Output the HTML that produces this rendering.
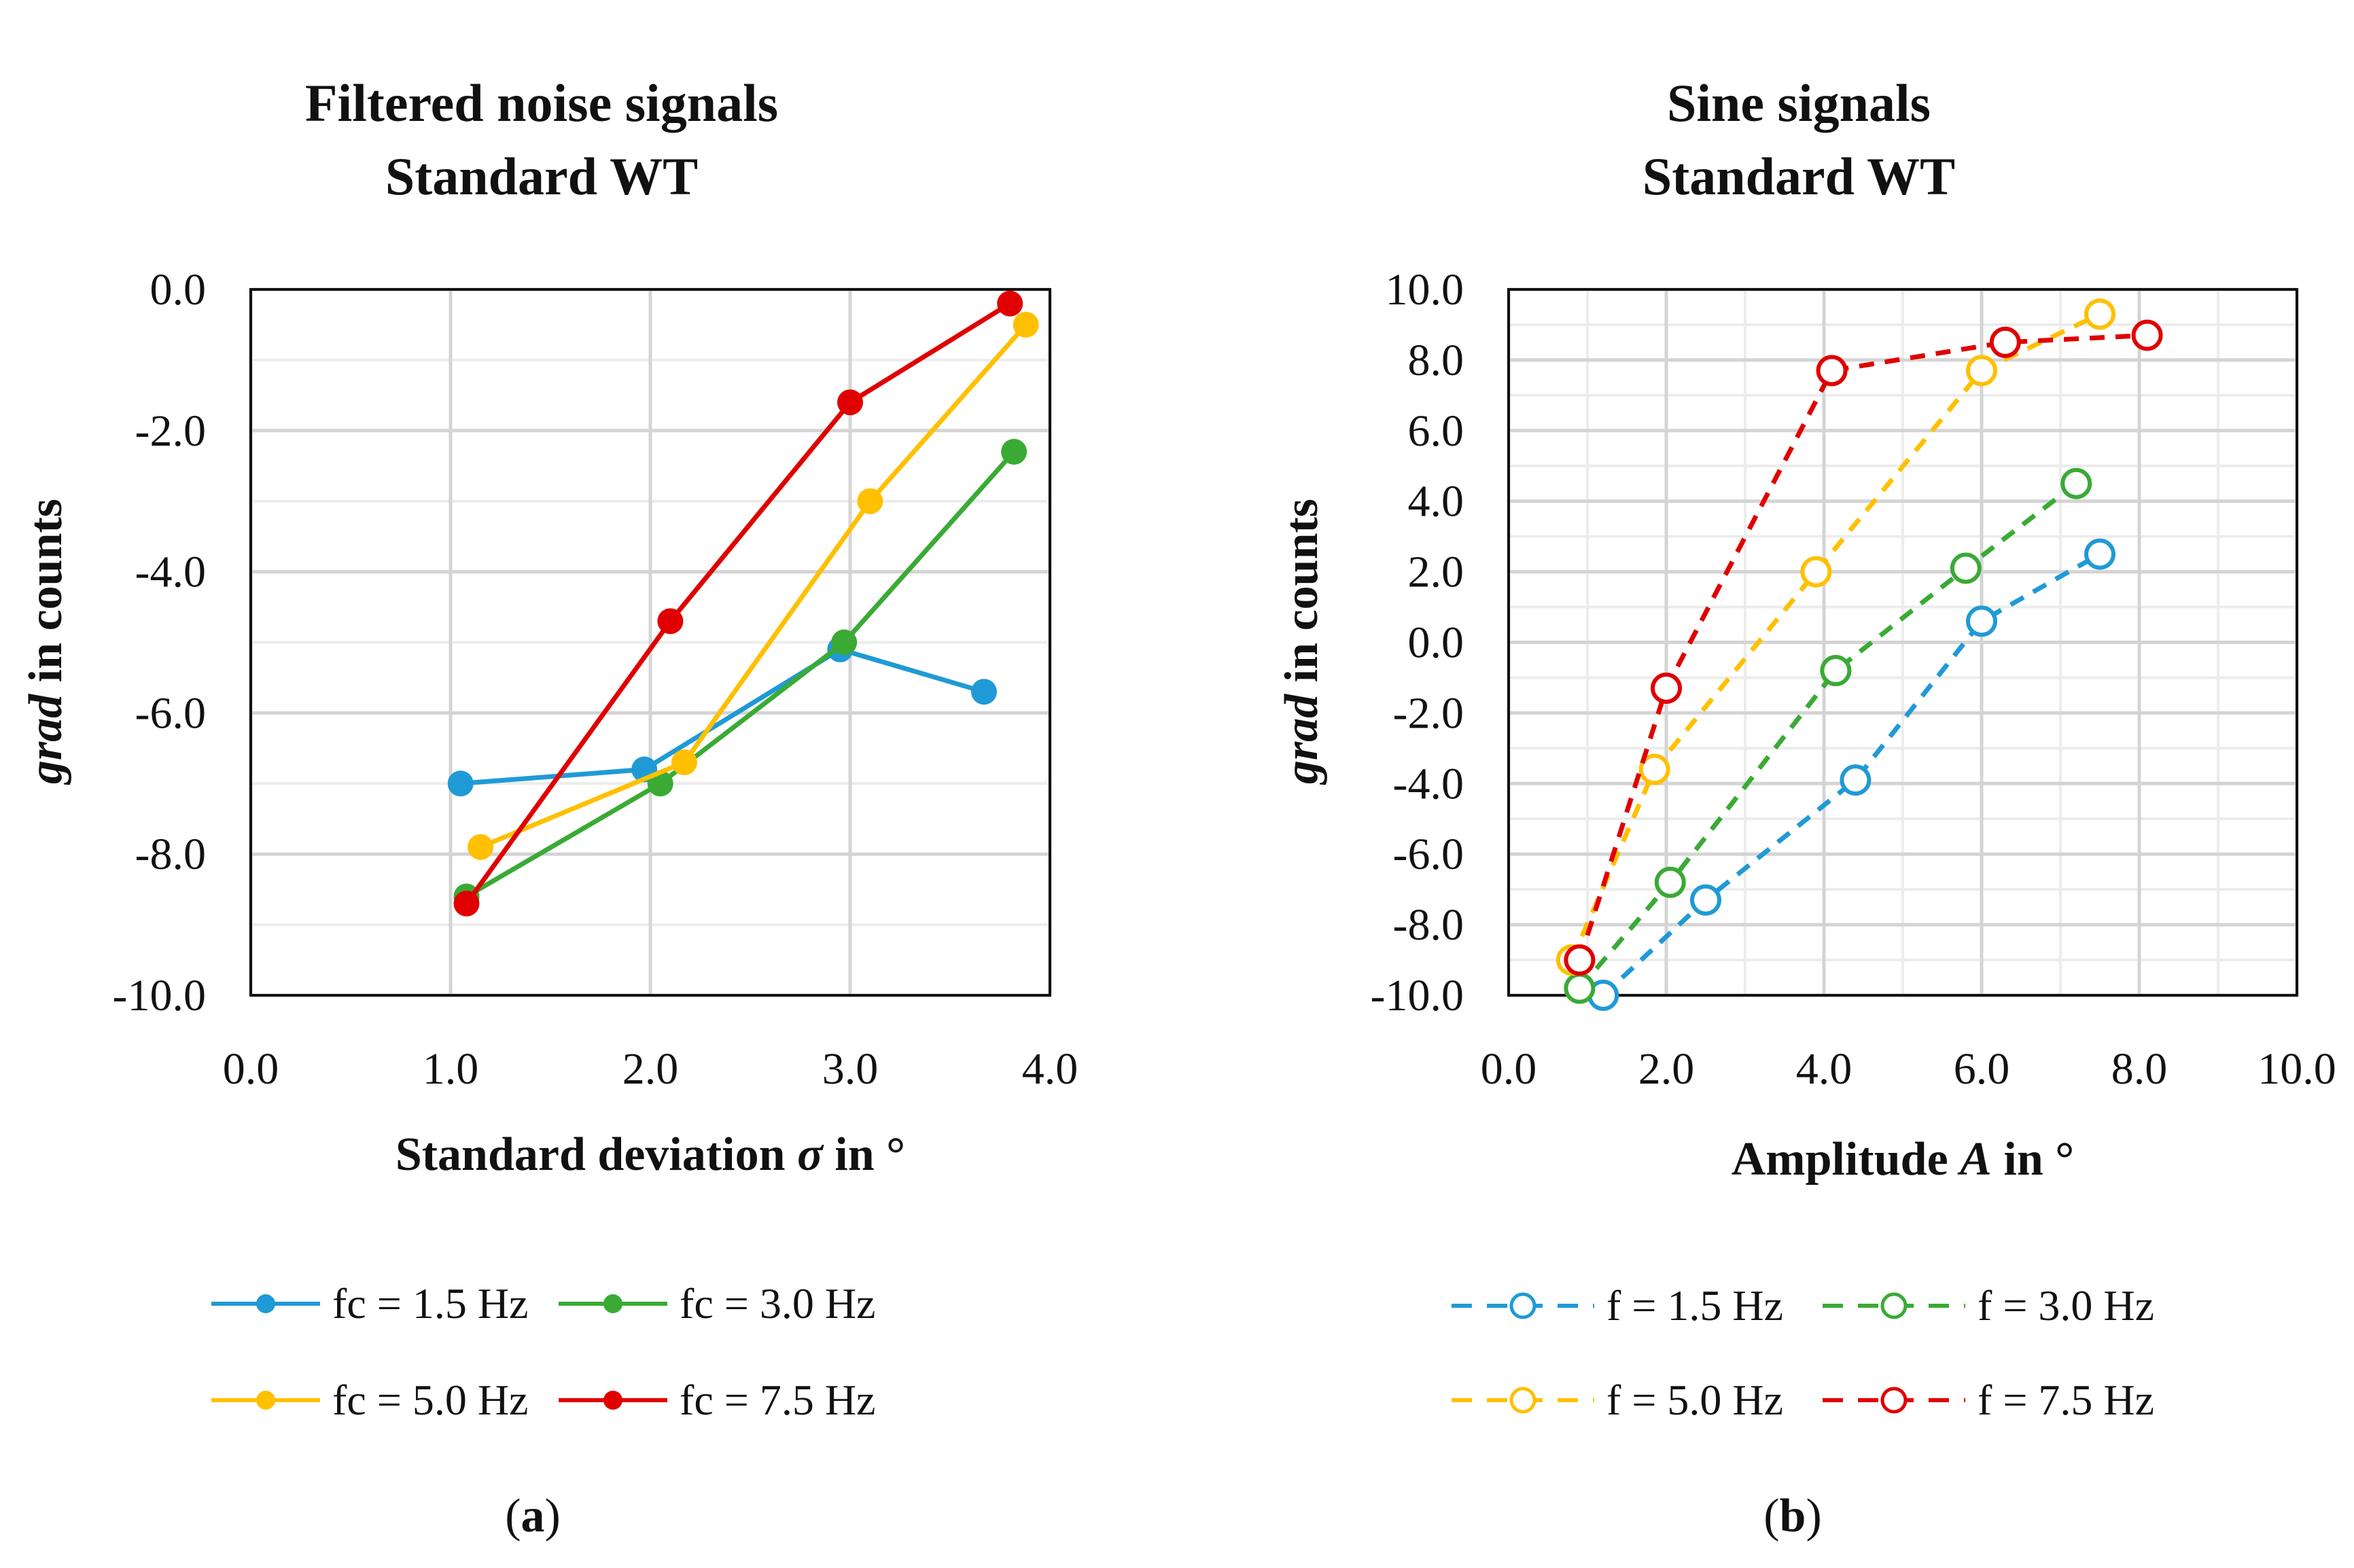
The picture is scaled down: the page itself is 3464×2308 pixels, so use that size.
<!DOCTYPE html>
<html><head><meta charset="utf-8"><style>
html,body{margin:0;padding:0;background:#fff}
svg{display:block;font-family:"Liberation Serif",serif}
</style></head><body>
<svg id="fig" width="3464" height="2308" viewBox="0 0 3464 2308" xmlns="http://www.w3.org/2000/svg">
<rect width="3464" height="2308" fill="#fff"/>
<g id="gl"></g>
<g id="gr"></g>
</svg>
<script>
const colors=["#1f9ad6","#3aaa35","#ffc000","#e00000"];
const lx_blue=[1.05,1.97,2.95,3.67], ly_blue=[-7.0,-6.8,-5.1,-5.7];
const lx_green=[1.08,2.05,2.97,3.82], ly_green=[-8.6,-7.0,-5.0,-2.3];
const lx_yellow=[1.15,2.17,3.1,3.88], ly_yellow=[-7.9,-6.7,-3.0,-0.5];
const lx_red=[1.08,2.1,3.0,3.8], ly_red=[-8.7,-4.7,-1.6,-0.2];
const leftLabels=["fc = 1.5 Hz","fc = 3.0 Hz","fc = 5.0 Hz","fc = 7.5 Hz"];
const rx_blue=[1.2,2.5,4.4,6.0,7.5], ry_blue=[-10.0,-7.3,-3.9,0.6,2.5];
const rx_green=[0.9,2.05,4.15,5.8,7.2], ry_green=[-9.8,-6.8,-0.8,2.1,4.5];
const rx_yellow=[0.8,1.85,3.9,6.0,7.5], ry_yellow=[-9.0,-3.6,2.0,7.7,9.3];
const rx_red=[0.9,2.0,4.1,6.3,8.1], ry_red=[-9.0,-1.3,7.7,8.5,8.7];
const rightLabels=["f = 1.5 Hz","f = 3.0 Hz","f = 5.0 Hz","f = 7.5 Hz"];
const leftXTicks=["0.0","1.0","2.0","3.0","4.0"];
const leftYTicks=["0.0","-2.0","-4.0","-6.0","-8.0","-10.0"];
const rightXTicks=["0.0","2.0","4.0","6.0","8.0","10.0"];
const rightYTicks=["10.0","8.0","6.0","4.0","2.0","0.0","-2.0","-4.0","-6.0","-8.0","-10.0"];

const NS="http://www.w3.org/2000/svg";
function el(p,t,a,txt){const e=document.createElementNS(NS,t);for(const k in a)e.setAttribute(k,a[k]);if(txt!==undefined)e.textContent=txt;p.appendChild(e);return e;}

function chart(g,o){
  const X=v=>o.L+(v-o.x0)/(o.x1-o.x0)*(o.R-o.L);
  const Y=v=>o.B-(v-o.y0)/(o.y1-o.y0)*(o.B-o.T);
  for(let v=o.y0;v<=o.y1+1e-9;v+=o.ym){const e=el(g,"line",{x1:o.L,x2:o.R,y1:Y(v),y2:Y(v),stroke:"#ececec","stroke-width":4});
    }
  if(o.xm){for(let v=o.x0;v<=o.x1+1e-9;v+=o.xm){const e=el(g,"line",{x1:X(v),x2:X(v),y1:o.T,y2:o.B,stroke:"#ececec","stroke-width":4});
    }}
  o.yt.forEach(t=>{const v=parseFloat(t);const e=el(g,"line",{x1:o.L,x2:o.R,y1:Y(v),y2:Y(v),stroke:"#d4d4d4","stroke-width":5});
    
    const tx=el(g,"text",{x:o.L-66,y:Y(v)+22,"text-anchor":"end","font-size":66,fill:"#111"},t);
    });
  o.xt.forEach(t=>{const v=parseFloat(t);const e=el(g,"line",{x1:X(v),x2:X(v),y1:o.T,y2:o.B,stroke:"#d4d4d4","stroke-width":5});
    
    const tx=el(g,"text",{x:X(v),y:o.B+130,"text-anchor":"middle","font-size":66,fill:"#111"},t);
    });
  const box=el(g,"rect",{x:o.L,y:o.T,width:o.R-o.L,height:o.B-o.T,fill:"none",stroke:"#111","stroke-width":4});
  
  o.series.forEach((s,i)=>{
    const pts=s.x.map((v,j)=>X(v)+","+Y(s.y[j])).join(" ");
    const pl=el(g,"polyline",{points:pts,fill:"none",stroke:colors[i],"stroke-width":7,"stroke-dasharray":o.dash?"22 16":"none"});
    
    s.x.forEach((v,j)=>{const c=o.dash?el(g,"circle",{cx:X(v),cy:Y(s.y[j]),r:20,fill:"#fff",stroke:colors[i],"stroke-width":6}):el(g,"circle",{cx:X(v),cy:Y(s.y[j]),r:19,fill:colors[i]});
      });
  });
  o.titles.forEach((t,k)=>{const tx=el(g,"text",{x:o.tc,y:[178,286][k],"text-anchor":"middle","font-size":78,"font-weight":"bold",fill:"#111"},t);
    });
  const xt=el(g,"text",{x:o.xtc,y:o.xty,"text-anchor":"middle","font-size":70,"font-weight":"bold",fill:"#111"});
  xt.innerHTML=o.xtitle;
  const yt=el(g,"text",{x:0,y:0,transform:`translate(${o.ytx},944) rotate(-90)`,"text-anchor":"middle","font-size":70,"font-weight":"bold",fill:"#111"});
  yt.innerHTML='<tspan font-style="italic">grad</tspan> in counts';
  o.leg.forEach((p,i)=>{const lg=el(g,"g",{});
    el(lg,"line",{x1:p[0],x2:p[0]+o.lw,y1:p[1],y2:p[1],stroke:colors[i],"stroke-width":6,"stroke-dasharray":o.dash?"30 22":"none"});
    if(o.dash)el(lg,"circle",{cx:p[0]+o.lw/2,cy:p[1],r:17,fill:"#fff",stroke:colors[i],"stroke-width":5});
    else el(lg,"circle",{cx:p[0]+o.lw/2,cy:p[1],r:14,fill:colors[i]});
    el(lg,"text",{x:p[0]+o.lw+18,y:p[1]+21,"font-size":64,fill:"#111"},o.labels[i]);});
  const cap=el(g,"text",{x:o.cap,y:2254,"text-anchor":"middle","font-size":70,fill:"#111"});
  cap.innerHTML='(<tspan font-weight="bold">'+o.capl+'</tspan>)';
}
chart(document.getElementById("gl"),{L:369,R:1545,T:426,B:1465,x0:0,x1:4,y0:-10,y1:0,ym:1,xm:0,
  xt:leftXTicks,yt:leftYTicks,dash:false,
  series:[{x:lx_blue,y:ly_blue},{x:lx_green,y:ly_green},{x:lx_yellow,y:ly_yellow},{x:lx_red,y:ly_red}],
  titles:["Filtered noise signals","Standard WT"],tc:797,xtc:957,xty:1722,ytx:90,
  xtitle:'Standard deviation <tspan font-style="italic">σ</tspan> in °',
  leg:[[311,1919],[822,1919],[311,2061],[822,2061]],lw:160,labels:leftLabels,cap:784,capl:"a"});
chart(document.getElementById("gr"),{L:2220,R:3380,T:426,B:1465,x0:0,x1:10,y0:-10,y1:10,ym:1,xm:1,
  xt:rightXTicks,yt:rightYTicks,dash:true,
  series:[{x:rx_blue,y:ry_blue},{x:rx_green,y:ry_green},{x:rx_yellow,y:ry_yellow},{x:rx_red,y:ry_red}],
  titles:["Sine signals","Standard WT"],tc:2647,xtc:2800,xty:1729,ytx:1938,
  xtitle:'Amplitude <tspan font-style="italic">A</tspan> in °',
  leg:[[2136,1922],[2682,1922],[2136,2061],[2682,2061]],lw:210,labels:rightLabels,cap:2638,capl:"b"});
</script>
</body></html>
